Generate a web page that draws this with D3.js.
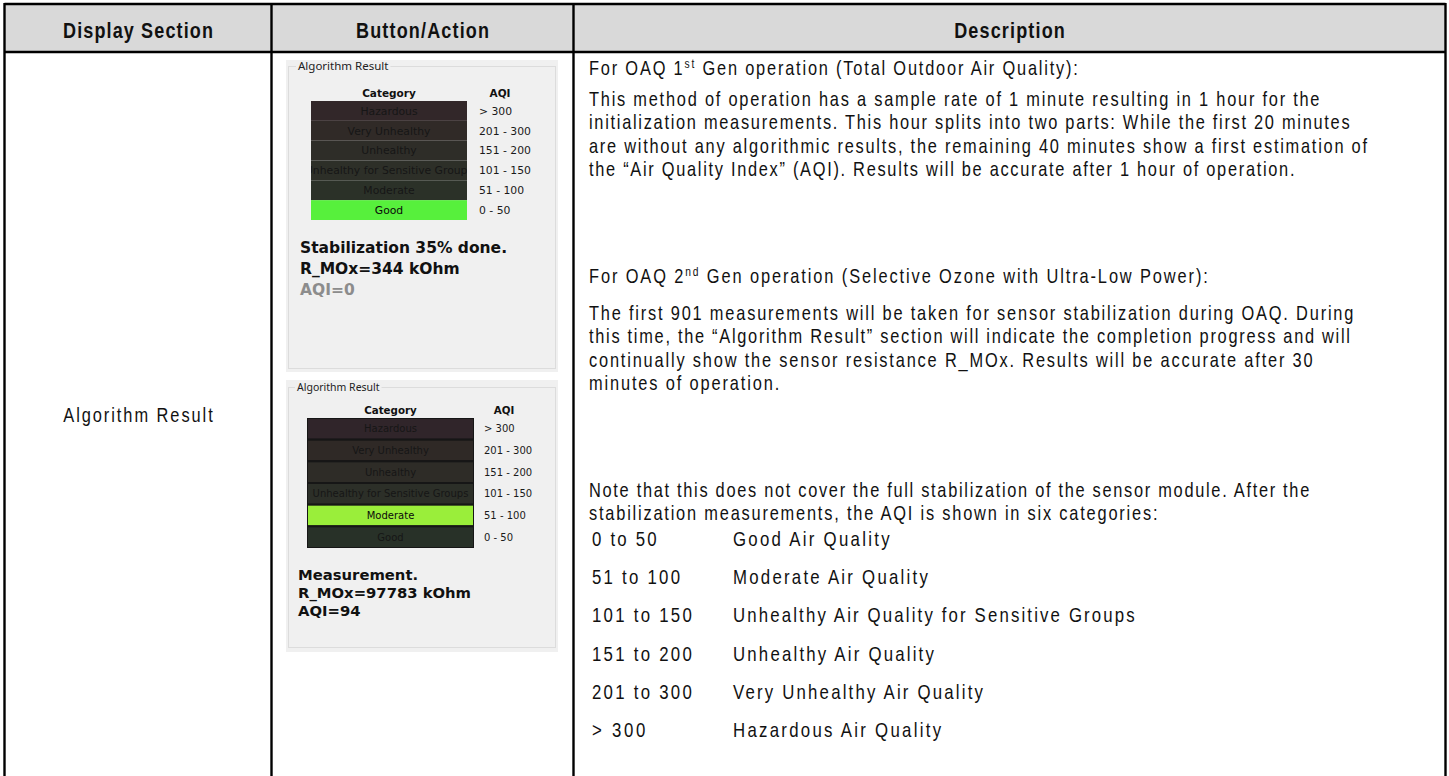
<!DOCTYPE html>
<html>
<head>
<meta charset="utf-8">
<title>Algorithm Result</title>
<script src="https://d3js.org/d3.v7.min.js"></script>
<style>
body { margin: 0; background: #fff; }
.narrow { font-family: "Liberation Sans", Arial, sans-serif; fill: #111; }
.ui { font-family: "DejaVu Sans", sans-serif; }
.title { font-family: "Noto Sans", "DejaVu Sans", sans-serif; fill: #222; }
</style>
</head>
<body>
<div id="container"></div>
<script>
//------------------------ DATA ------------------------//
const headers = ["Display Section", "Button/Action", "Description"];
const sectionName = "Algorithm Result";

const categories = ["Hazardous", "Very Unhealthy", "Unhealthy", "Unhealthy for Sensitive Groups", "Moderate", "Good"];
const aqiRanges = ["> 300", "201 - 300", "151 - 200", "101 - 150", "51 - 100", "0 - 50"];

const panel1Active = "Good";
const panel2Active = "Moderate";
const panel1Status = ["Stabilization 35% done.", "R_MOx=344 kOhm", "AQI=0"];
const panel2Status = ["Measurement.", "R_MOx=97783 kOhm", "AQI=94"];

const descParagraphs = [
  ["For OAQ 1{st} Gen operation (Total Outdoor Air Quality):"],
  ["This method of operation has a sample rate of 1 minute resulting in 1 hour for the",
   "initialization measurements. This hour splits into two parts: While the first 20 minutes",
   "are without any algorithmic results, the remaining 40 minutes show a first estimation of",
   "the \u201CAir Quality Index\u201D (AQI). Results will be accurate after 1 hour of operation."],
  ["For OAQ 2{nd} Gen operation (Selective Ozone with Ultra-Low Power):"],
  ["The first 901 measurements will be taken for sensor stabilization during OAQ. During",
   "this time, the \u201CAlgorithm Result\u201D section will indicate the completion progress and will",
   "continually show the sensor resistance R_MOx. Results will be accurate after 30",
   "minutes of operation."],
  ["Note that this does not cover the full stabilization of the sensor module. After the",
   "stabilization measurements, the AQI is shown in six categories:"]
];

const listRanges = ["0 to 50", "51 to 100", "101 to 150", "151 to 200", "201 to 300", "> 300"];
const listLabels = ["Good Air Quality", "Moderate Air Quality", "Unhealthy Air Quality for Sensitive Groups",
                    "Unhealthy Air Quality", "Very Unhealthy Air Quality", "Hazardous Air Quality"];

//------------------------ COLOURS ------------------------//
const panel1Colors = ["#322729", "#302a27", "#2e2d28", "#2d2f28", "#2b3128", "#57f03c"];
const panel2Colors = ["#30252a", "#2f2926", "#2e2c27", "#2c2f28", "#9aee3a", "#283128"];

//------------------------ SVG ------------------------//
const W = 1449, H = 776;
const svg = d3.select("#container").append("svg")
  .attr("width", W).attr("height", H);

// narrow face: Arial-like glyphs squeezed horizontally, then spread back
// so that each line keeps the width of the regular face (times k)
const squeeze = 0.82;
function narrow(sel, x, y, size) {
  return sel
    .attr("class", "narrow")
    .attr("transform", (d, i) => "translate(" + (typeof x === "function" ? x(d, i) : x) + "," +
                                 (typeof y === "function" ? y(d, i) : y) + ") scale(" + squeeze + ",1)")
    .style("font-size", size + "px");
}
function spread(sel, k) {
  sel.each(function() {
    const w = this.getComputedTextLength();
    d3.select(this).attr("textLength", w * k / squeeze).attr("lengthAdjust", "spacing");
  });
}

// table frame
const tLeft = 4.5, tRight = 1445.5, tTop = 4, headBottom = 52;
const colEdges = [tLeft, 271.5, 573.5, tRight];

svg.append("rect")
  .attr("x", tLeft).attr("y", tTop)
  .attr("width", tRight - tLeft).attr("height", headBottom - tTop)
  .attr("fill", "#d9d9d9");

svg.selectAll(".head")
  .data(headers)
  .enter().append("text")
  .call(narrow, (d, i) => (colEdges[i] + colEdges[i + 1]) / 2, 38, 22)
  .attr("text-anchor", "middle")
  .style("font-weight", "bold")
  .text(d => d)
  .call(spread, 0.915);

const lineAttrs = [
  [tLeft, tTop, tRight, tTop],
  [tLeft, headBottom, tRight, headBottom],
  [tLeft, tTop - 1, tLeft, H + 10],
  [tRight, tTop - 1, tRight, H + 10],
  [colEdges[1], tTop, colEdges[1], H + 10],
  [colEdges[2], tTop, colEdges[2], H + 10]
];
svg.selectAll(".grid")
  .data(lineAttrs)
  .enter().append("line")
  .attr("x1", d => d[0]).attr("y1", d => d[1])
  .attr("x2", d => d[2]).attr("y2", d => d[3])
  .attr("stroke", "#000")
  .attr("stroke-width", 2.4);

const bodyFont = 20, bodyK = 1.02;

// first column label
svg.append("text")
  .call(narrow, (colEdges[0] + colEdges[1]) / 2, 422, bodyFont)
  .attr("text-anchor", "middle")
  .text(sectionName)
  .call(spread, bodyK);

//------------------------ PANELS ------------------------//
function drawPanel(p) {
  const g = svg.append("g");
  g.append("rect")
    .attr("x", 286).attr("y", p.y0)
    .attr("width", 272).attr("height", p.y1 - p.y0)
    .attr("fill", "#f0f0f0");
  g.append("rect")
    .attr("x", 288.5).attr("y", p.boxTop)
    .attr("width", 267).attr("height", p.boxBottom - p.boxTop)
    .attr("fill", "none").attr("stroke", "#dcdcdc");
  const title = g.append("text")
    .attr("class", "title")
    .attr("x", p.titleX).attr("y", p.boxTop + 3.5)
    .style("font-size", p.titleSize + "px")
    .text(sectionName);
  const tw = title.node().getComputedTextLength();
  g.insert("rect", "text")
    .attr("x", p.titleX - 2).attr("y", p.boxTop - 2)
    .attr("width", tw + 4).attr("height", 4)
    .attr("fill", "#f0f0f0");

  const yBand = d3.scaleBand().domain(categories).range([p.barTop, p.barBottom]);
  const colour = d3.scaleOrdinal().domain(categories).range(p.colors);

  g.append("text").attr("class", "ui")
    .attr("x", (p.barX0 + p.barX1) / 2).attr("y", p.barTop - 4)
    .attr("text-anchor", "middle")
    .style("font-size", p.headSize + "px").style("font-weight", "bold").attr("fill", "#111")
    .text("Category");
  g.append("text").attr("class", "ui")
    .attr("x", p.aqiHeadX).attr("y", p.barTop - 4)
    .attr("text-anchor", "middle")
    .style("font-size", p.headSize + "px").style("font-weight", "bold").attr("fill", "#111")
    .text("AQI");

  const clipId = "clip" + p.y0;
  g.append("clipPath").attr("id", clipId)
    .append("rect")
    .attr("x", p.barX0).attr("y", p.barTop)
    .attr("width", p.barX1 - p.barX0).attr("height", p.barBottom - p.barTop);

  const bars = g.append("g").attr("clip-path", "url(#" + clipId + ")");
  bars.selectAll("rect")
    .data(categories)
    .enter().append("rect")
    .attr("x", p.barX0).attr("y", d => yBand(d))
    .attr("width", p.barX1 - p.barX0).attr("height", yBand.bandwidth())
    .attr("fill", d => colour(d))
    .attr("stroke", p.border ? "#161616" : "none")
    .attr("stroke-width", p.border ? 2 : 0);
  bars.selectAll("text")
    .data(categories)
    .enter().append("text")
    .attr("class", "ui")
    .attr("x", (p.barX0 + p.barX1) / 2)
    .attr("y", d => yBand(d) + yBand.bandwidth() / 2 + p.labelSize * 0.36)
    .attr("text-anchor", "middle")
    .style("font-size", p.labelSize + "px")
    .attr("fill", d => d === p.active ? "#0a0a0a" : "#161616")
    .text(d => d);

  g.selectAll(".rng")
    .data(aqiRanges)
    .enter().append("text")
    .attr("class", "ui")
    .attr("x", p.aqiX)
    .attr("y", (d, i) => yBand(categories[i]) + yBand.bandwidth() / 2 + p.labelSize * 0.36)
    .style("font-size", p.labelSize + "px")
    .attr("fill", "#1a1a1a")
    .text(d => d);

  const yStatus = d3.scalePoint().domain(p.status).range([p.statusTop, p.statusBottom]);
  g.selectAll(".status")
    .data(p.status)
    .enter().append("text")
    .attr("class", "ui")
    .attr("x", p.statusX)
    .attr("y", d => yStatus(d))
    .style("font-size", p.statusSize + "px")
    .style("font-weight", "bold")
    .attr("fill", (d, i) => (p.dimLast && i === p.status.length - 1) ? "#8c8c8c" : "#111")
    .text(d => d);
}

drawPanel({
  y0: 60, y1: 372, boxTop: 66.5, boxBottom: 368.5, titleX: 298, titleSize: 11.5,
  barX0: 311, barX1: 467, barTop: 101, barBottom: 220, aqiX: 479, aqiHeadX: 500,
  headSize: 10.5, labelSize: 10.8, colors: panel1Colors, active: panel1Active, border: false,
  status: panel1Status, statusX: 300, statusTop: 253, statusBottom: 295, statusSize: 15.5, dimLast: true
});
drawPanel({
  y0: 380, y1: 652, boxTop: 387.5, boxBottom: 647.5, titleX: 297, titleSize: 10.5,
  barX0: 307, barX1: 474, barTop: 418, barBottom: 548, aqiX: 484, aqiHeadX: 504,
  headSize: 10.3, labelSize: 10, colors: panel2Colors, active: panel2Active, border: true,
  status: panel2Status, statusX: 298, statusTop: 580, statusBottom: 616, statusSize: 14.8, dimLast: false
});

//------------------------ DESCRIPTION ------------------------//
const descX = 589, lineStep = 23.3;
const paraStart = [75, 106, 283, 320, 497];

function richText(sel, str) {
  const parts = str.split(/\{(\w+)\}/);
  parts.forEach((part, i) => {
    if (!part) return;
    const t = sel.append("tspan").text(part);
    if (i % 2 === 1) {
      t.attr("dy", -7).style("font-size", "12.5px");
    } else if (i > 0) {
      t.attr("dy", 7);
    }
  });
}

descParagraphs.forEach((para, pi) => {
  svg.selectAll(".p" + pi)
    .data(para)
    .enter().append("text")
    .call(narrow, descX, (d, i) => paraStart[pi] + i * lineStep, bodyFont)
    .each(function(d) { richText(d3.select(this), d); })
    .call(spread, bodyK);
});

const listFont = 20.5, listK = 1.03;
const yList = d3.scalePoint().domain(listRanges).range([546, 737]);
svg.selectAll(".lr")
  .data(listRanges)
  .enter().append("text")
  .call(narrow, 592, d => yList(d), listFont)
  .text(d => d)
  .call(spread, listK);
svg.selectAll(".ll")
  .data(listLabels)
  .enter().append("text")
  .call(narrow, 733, (d, i) => yList(listRanges[i]), listFont)
  .text(d => d)
  .call(spread, 1.05);
</script>
</body>
</html>
